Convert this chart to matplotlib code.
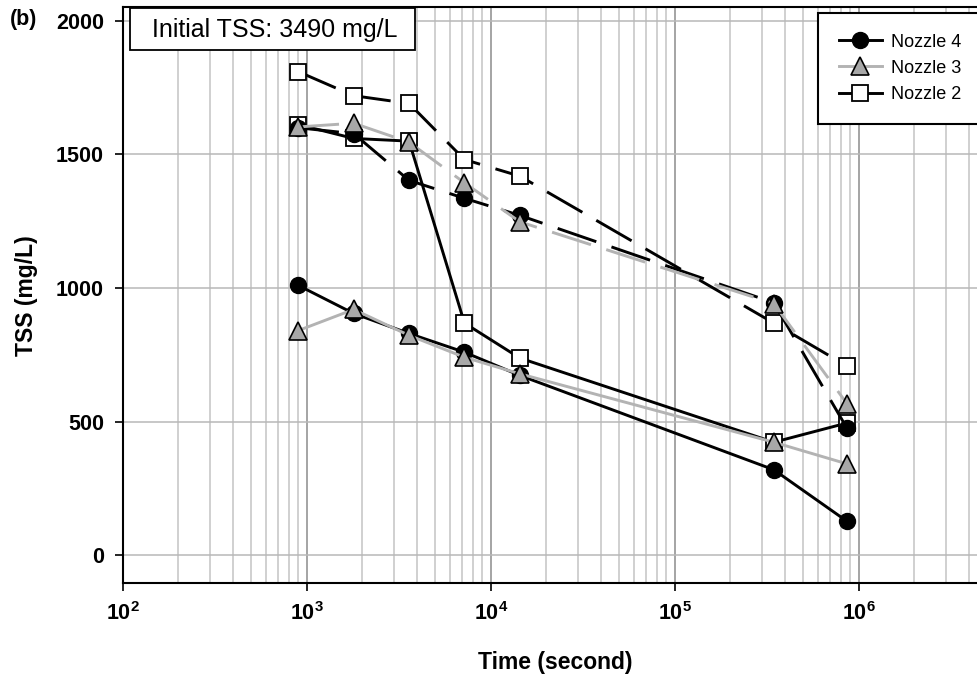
import numpy as np
import matplotlib
matplotlib.use("Agg")
import matplotlib.pyplot as plt
from matplotlib.patches import Rectangle
from matplotlib.ticker import LogLocator, NullFormatter, FixedLocator

plt.rcParams['font.family'] = ['Liberation Sans', 'DejaVu Sans']
plt.rcParams['mathtext.fontset'] = 'custom'
plt.rcParams['mathtext.rm'] = 'Liberation Sans:bold'
plt.rcParams['mathtext.bf'] = 'Liberation Sans:bold'

# sampling times (s) and TSS (mg/L)
time_s = [900, 1800, 3600, 7200, 14400, 345600, 864000]
n4_low = [1010, 905, 830, 760, 673, 320, 127]
n4_high = [1600, 1578, 1403, 1336, 1272, 945, 475]
n3_low = [841, 920, 823, 741, 679, 423, 342]
n3_high = [1603, 1617, 1546, 1394, 1248, 942, 567]
n2_low = [1612, 1560, 1550, 869, 738, 423, 495]
n2_high = [1810, 1720, 1691, 1481, 1419, 869, 708]

y_ticks = [0, 500, 1000, 1500, 2000]
x_decades = [2, 3, 4, 5, 6]

W, H = 977, 681
fig = plt.figure(figsize=(W / 100, H / 100), dpi=100)
# axes run past the right edge of the figure (the reference is cropped there)
left, right, top, bottom = 122.7, 1042.7, 7, 583.3
ax = fig.add_axes([left / W, 1 - bottom / H, (right - left) / W, (bottom - top) / H])

gray = '#b3b3b3'
tri_face = '#a8a8a8'
lw = 2.1
dash = (14, 5.5)

# nozzle 4 - black circles
ax.plot(time_s, n4_low, color='black', lw=lw, marker='o', ms=11.5,
        mfc='black', mec='black', zorder=4, label='Nozzle 4')
ax.plot(time_s, n4_high, color='black', lw=lw, dashes=dash, marker='o', ms=11.5,
        mfc='black', mec='black', zorder=4)
# nozzle 3 - gray triangles
ax.plot(time_s, n3_low, color=gray, lw=lw, marker='^', ms=12.5,
        mfc=tri_face, mec='black', mew=1.2, zorder=5, label='Nozzle 3')
ax.plot(time_s, n3_high, color=gray, lw=lw, dashes=dash, marker='^', ms=12.5,
        mfc=tri_face, mec='black', mew=1.2, zorder=5)
# nozzle 2 - open squares
ax.plot(time_s, n2_low, color='black', lw=lw, marker='s', ms=11,
        mfc='white', mec='black', mew=1.3, zorder=3, label='Nozzle 2')
ax.plot(time_s, n2_high, color='black', lw=lw, dashes=dash, marker='s', ms=11,
        mfc='white', mec='black', mew=1.3, zorder=3)

ax.set_xscale('log')
ax.set_xlim(1e2, 1e7)
ax.set_ylim(-105, 2052)

ax.xaxis.set_major_locator(FixedLocator([10.0 ** d for d in x_decades]))
ax.set_xticklabels([r'$\mathbf{10^{%d}}$' % d for d in x_decades])
ax.xaxis.set_minor_locator(LogLocator(base=10, subs=np.arange(2, 10), numticks=20))
ax.xaxis.set_minor_formatter(NullFormatter())
ax.set_yticks(y_ticks)
ax.set_yticklabels([str(v) for v in y_ticks])

ax.grid(True, which='major', axis='x', color='#8c8c8c', lw=1.1, zorder=0)
ax.grid(True, which='minor', axis='x', color='#c4c4c4', lw=1.1, zorder=0)
ax.grid(True, which='major', axis='y', color='#b8b8b8', lw=1.1, zorder=0)
# the 10^7 decade line (no label, it sits off the cropped edge)
ax.set_axisbelow(True)

ax.tick_params(axis='both', which='major', direction='out', length=5.5, width=1.2,
               labelsize=15.5, color='black')
ax.tick_params(axis='x', which='major', pad=8)
ax.tick_params(axis='y', which='major', pad=8)
ax.tick_params(axis='x', which='minor', length=0)
for lab in ax.get_yticklabels():
    lab.set_fontweight('bold')
for sp in ax.spines.values():
    sp.set_linewidth(1.5)
    sp.set_color('black')

ax.set_xlabel('Time (second)', fontsize=16.5, fontweight='bold')
ax.xaxis.set_label_coords((555 - left) / (right - left), -(651 - bottom) / (bottom - top))
ax.set_ylabel('TSS (mg/L)', fontsize=16.5, fontweight='bold')
ax.yaxis.set_label_coords((38 - left) / (right - left), 0.5)

fig.text(10 / W, 1 - 20 / H, '(b)', fontsize=15.5, fontweight='bold', va='center', ha='left')

# "Initial TSS" box
fig.patches.append(Rectangle((130 / W, 1 - 50 / H), 285 / W, 42 / H,
                             transform=fig.transFigure, facecolor='white',
                             edgecolor='black', lw=1.3, zorder=6))
fig.text(152 / W, 1 - 30 / H, 'Initial TSS: 3490 mg/L', fontsize=18,
         va='center', ha='left', zorder=7)

leg = ax.legend(loc='upper left', bbox_to_anchor=(818 / W, 1 - 13 / H),
                bbox_transform=fig.transFigure, borderaxespad=0, fontsize=13,
                handlelength=2.4, handletextpad=0.5, labelspacing=0.5,
                borderpad=1.15, fancybox=False, framealpha=1, edgecolor='black')
leg.get_frame().set_linewidth(1.5)
leg.set_zorder(10)

fig.savefig('out.png', dpi=100)
